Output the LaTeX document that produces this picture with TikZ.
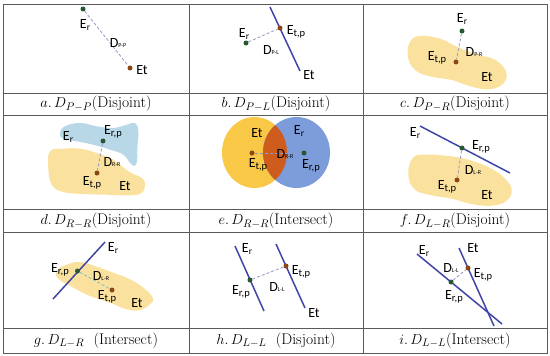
\documentclass[tikz,border=0pt]{standalone}
\usepackage{fontspec}
\newfontfamily\labfont{Carlito}
\definecolor{drgreen}{RGB}{38,88,52}
\definecolor{dbrown}{RGB}{140,72,20}
\definecolor{lineblue}{RGB}{64,70,168}
\definecolor{dashc}{RGB}{150,150,200}
\definecolor{blobyel}{RGB}{250,226,158}
\definecolor{blobblue}{RGB}{184,216,232}
\definecolor{circyel}{RGB}{249,200,70}
\definecolor{circblue}{RGB}{125,156,218}
\definecolor{lensc}{RGB}{206,92,28}
\definecolor{gridc}{RGB}{90,90,90}
\newcommand{\lEr}{E\raisebox{-1.5pt}{\fontsize{9.5}{9.5}\selectfont r}}
\newcommand{\lEtp}{E\raisebox{-1.5pt}{\fontsize{10.5}{10.5}\selectfont t,p}}
\newcommand{\lErp}{E\raisebox{-1.5pt}{\fontsize{10.5}{10.5}\selectfont r,p}}
\newcommand{\lD}[1]{D\raisebox{-0.5pt}{\fontsize{6}{6}\selectfont #1}}
\begin{document}
\begin{tikzpicture}[x=1pt,y=-1pt,
  lbl/.style={font=\labfont\fontsize{14}{14}\selectfont, inner sep=0pt, text=black},
  capt/.style={font=\fontsize{15.5}{16}\selectfont, inner sep=0pt},
  dotr/.style={circle, fill=drgreen, inner sep=0pt, minimum size=5pt},
  dott/.style={circle, fill=dbrown, inner sep=0pt, minimum size=5pt},
  bline/.style={draw=lineblue, line width=1.5pt},
  dline/.style={draw=dashc, dash pattern=on 3pt off 2pt, line width=0.8pt},
  gline/.style={draw=gridc, line width=0.8pt}]
\useasboundingbox (0,0) rectangle (550,356);
\fill[white] (0,0) rectangle (550,356);
% grid
\draw[gline] (3,4) rectangle (547,353);
\draw[gline] (189,4) -- (189,353);
\draw[gline] (363,4) -- (363,353);
\foreach \yy in {93,115,209,232,328} \draw[gline] (3,\yy) -- (547,\yy);

% ---------- a ----------
\node[dotr] (aEr) at (83,9) {};
\node[dott] (aEt) at (130,68) {};
\draw[dline] (aEr) -- (aEt);
\node[lbl] (aErl) at (85,25) {\lEr};
\node[lbl] (aD) at (118,43) {\lD{P-P}};
\node[lbl] (aEtl) at (142,70) {Et};
\node[capt] (acap) at (96,104) {$a.\,D_{P-P}$(Disjoint)};

% ---------- b ----------
\coordinate (bL1) at (270,7);
\coordinate (bL2) at (300,71);
\draw[bline] (bL1) -- (bL2);
\node[dott] (bEtp) at (280,28) {};
\node[dotr] (bEr) at (246,43) {};
\draw[dline] (bEr) -- (bEtp);
\node[lbl] (bErl) at (244,34) {\lEr};
\node[lbl] (bEtpl) at (296,32) {\lEtp};
\node[lbl] (bD) at (271,50) {\lD{P-L}};
\node[lbl] (bEtl) at (309,75) {Et};
\node[capt] (bcap) at (276,104) {$b.\,D_{P-L}$(Disjoint)};

% ---------- c ----------
\fill[blobyel] plot[smooth cycle, tension=0.7] coordinates {(411.7,39.3) (425,36) (441.7,39.3) (453.3,45) (465,50) (478.3,55) (491.7,58.3) (501.7,65) (506.7,75) (501.7,85) (488.3,89.3) (471.7,86.7) (451.7,80) (431.7,76.7) (415,70) (407.7,55)};
\node[dotr] (cEr) at (462,31) {};
\node[dott] (cEtp) at (456,62) {};
\draw[dline] (cEr) -- (cEtp);
\node[lbl] (cErl) at (462,19) {\lEr};
\node[lbl] (cEtpl) at (437,58) {\lEtp};
\node[lbl] (cD) at (474,52) {\lD{P-R}};
\node[lbl] (cEtl) at (487,77) {Et};
\node[capt] (ccap) at (455,104) {$c.\,D_{P-R}$(Disjoint)};

% ---------- d ----------
\fill[blobblue] plot[smooth cycle, tension=0.7] coordinates {(60,133) (65,126.3) (80,123) (96.7,126.3) (113.3,128) (126.7,124.7) (135,123) (138.3,131.3) (137.3,148) (136.7,163) (131.7,164.7) (123.3,154.7) (110,149.7) (93.3,144.7) (76.7,141.3) (63.3,138.7)};
\fill[blobyel] plot[smooth cycle, tension=0.7] coordinates {(50,151.3) (63.3,148.7) (80,148.7) (96.7,153) (113.3,159.7) (128.3,171.3) (141.7,178) (145,184.7) (141.7,193) (130,195.3) (106.7,194.7) (83.3,194) (63.3,192) (51.7,184.7) (48.3,168)};
\node[dotr] (dErp) at (103,141) {};
\node[dott] (dEtp) at (97,173) {};
\draw[dline] (dErp) -- (dEtp);
\node[lbl] (dErl) at (68,137) {\lEr};
\node[lbl] (dErpl) at (113,132) {\lErp};
\node[lbl] (dD) at (112,162) {\lD{R-R}};
\node[lbl] (dEtpl) at (92,183) {\lEtp};
\node[lbl] (dEtl) at (125,186) {Et};
\node[capt] (dcap) at (96,221) {$d.\,D_{R-R}$(Disjoint)};

% ---------- e ----------
\fill[circyel] (254.5,152.5) ellipse [x radius=32.5, y radius=35.5];
\fill[circblue] (296.5,152.5) ellipse [x radius=33.5, y radius=35.5];
\begin{scope}
  \clip (254.5,152.5) ellipse [x radius=32.5, y radius=35.5];
  \fill[lensc] (296.5,152.5) ellipse [x radius=33.5, y radius=35.5];
\end{scope}
\node[dott] (eEtp) at (252,153) {};
\node[dotr] (eErp) at (304,153) {};
\draw[dline] (eEtp) -- (eErp);
\node[lbl] (eEtl) at (257,133) {Et};
\node[lbl] (eErl) at (299,131) {\lEr};
\node[lbl] (eEtpl) at (258,165) {\lEtp};
\node[lbl] (eD) at (285,154) {\lD{R-R}};
\node[lbl] (eErpl) at (311,166) {\lErp};
\node[capt] (ecap) at (276,221) {$e.\,D_{R-R}$(Intersect)};

% ---------- f ----------
\fill[blobyel] plot[smooth cycle, tension=0.7] coordinates {(413.3,157.3) (428.3,154.7) (445,155.7) (461.7,158) (478.3,163) (493.3,169.7) (505,178.7) (511.7,189.7) (506.7,200.7) (491.7,205.7) (471.7,204) (451.7,198.7) (431.7,195.3) (415,189.7) (408.3,174.7)};
\coordinate (fL1) at (420,126);
\coordinate (fL2) at (510,173);
\draw[bline] (fL1) -- (fL2);
\node[dotr] (fErp) at (462,148) {};
\node[dott] (fEtp) at (457,180) {};
\draw[dline] (fErp) -- (fEtp);
\node[lbl] (fErl) at (415,133) {\lEr};
\node[lbl] (fErpl) at (481,147) {\lErp};
\node[lbl] (fD) at (473,170) {\lD{L-R}};
\node[lbl] (fEtpl) at (447,187) {\lEtp};
\node[lbl] (fEtl) at (487,195) {Et};
\node[capt] (fcap) at (455,221) {$f.\,D_{L-R}$(Disjoint)};

% ---------- g ----------
\fill[blobyel] plot[smooth cycle, tension=0.7] coordinates {(65,265.3) (80,262) (96.7,266.7) (113.3,272.7) (130,279.3) (143.3,287.7) (152.7,297.7) (150,304.3) (140,310) (126.7,309.3) (110,302.7) (90,296) (73.3,287.7) (58.3,278.7) (56.7,271)};
\coordinate (gL1) at (105,242);
\coordinate (gL2) at (53,299);
\draw[bline] (gL1) -- (gL2);
\node[dotr] (gErp) at (77.5,271) {};
\node[dott] (gEtp) at (112,290) {};
\draw[draw=teal!50, dash pattern=on 3pt off 2pt, line width=0.8pt] (gErp) -- (gEtp);
\node[lbl] (gErl) at (113,248) {\lEr};
\node[lbl] (gErpl) at (60,270) {\lErp};
\node[lbl] (gD) at (101,276) {\lD{L-R}};
\node[lbl] (gEtpl) at (107,297) {\lEtp};
\node[lbl] (gEtl) at (137,303) {Et};
\node[capt] (gcap) at (96,340.5) {$g.\,D_{L-R}$\ \ (Intersect)};

% ---------- h ----------
\coordinate (hL1) at (235,246);
\coordinate (hL2) at (264,311);
\coordinate (hL3) at (276,244);
\coordinate (hL4) at (305,308);
\draw[bline] (hL1) -- (hL2);
\draw[bline] (hL3) -- (hL4);
\node[dotr] (hErp) at (250,280) {};
\node[dott] (hEtp) at (286,266) {};
\draw[dline] (hErp) -- (hEtp);
\node[lbl] (hErl) at (247,249) {\lEr};
\node[lbl] (hErpl) at (241,292) {\lErp};
\node[lbl] (hD) at (277,287) {\lD{L-L}};
\node[lbl] (hEtpl) at (301,272) {\lEtp};
\node[lbl] (hEtl) at (314,313) {Et};
\node[capt] (hcap) at (276,340.5) {$h.\,D_{L-L}$\ \ (Disjoint)};

% ---------- i ----------
\coordinate (iL1) at (417,254);
\coordinate (iL2) at (502,324);
\coordinate (iL3) at (459,248);
\coordinate (iL4) at (494,326);
\draw[bline] (iL1) -- (iL2);
\draw[bline] (iL3) -- (iL4);
\node[dott] (iEtp) at (468,268) {};
\node[dotr] (iErp) at (451,282) {};
\draw[dline] (iErp) -- (iEtp);
\node[lbl] (iErl) at (424,251) {\lEr};
\node[lbl] (iEtl) at (473,248) {Et};
\node[lbl] (iD) at (451,268) {\lD{L-L}};
\node[lbl] (iEtpl) at (483,275) {\lEtp};
\node[lbl] (iErpl) at (454,297) {\lErp};
\node[capt] (icap) at (455,340.5) {$i.\,D_{L-L}$(Intersect)};
\end{tikzpicture}
\end{document}
